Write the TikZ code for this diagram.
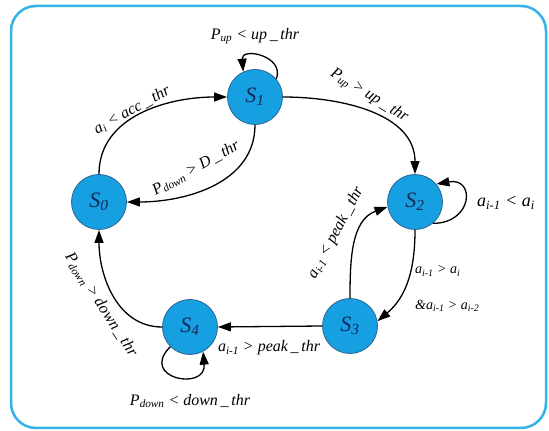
\documentclass[tikz,border=0pt]{standalone}
\usepackage{fontspec}
\setmainfont{Liberation Serif}
\usetikzlibrary{arrows.meta}
\definecolor{framec}{RGB}{50,178,230}
\definecolor{nodefill}{RGB}{22,160,225}
\definecolor{nodeline}{RGB}{40,100,150}
\definecolor{stext}{RGB}{20,40,90}
\newcommand\lsub[1]{\textsubscript{#1}}
\newcommand\usc{\,\_\,}
\begin{document}
\begin{tikzpicture}[x=1pt,y=1pt,
  state/.style={circle, draw=nodeline, line width=0.8pt, fill=nodefill, minimum size=55pt, inner sep=0pt, font=\fontsize{22}{24}\selectfont\itshape, text=stext},
  edge/.style={line width=1.3pt, -{Triangle[length=13pt,width=9pt]}},
  lab/.style={font=\fontsize{16}{18}\selectfont\itshape, inner sep=1pt},
  slab/.style={font=\fontsize{14}{16}\selectfont\itshape, inner sep=1pt}]
\useasboundingbox (0,0) rectangle (549,431);
\draw[framec, line width=2.5pt, rounded corners=25pt] (11,3) rectangle (546,425);

\node[state] (S0) at (99,229) {S\lsub{0}};
\node[state] (S1) at (255,334) {S\lsub{1}};
\node[state] (S2) at (415,229) {S\lsub{2}};
\node[state] (S3) at (350,105) {S\lsub{3}};
\node[state] (S4) at (190,104) {S\lsub{4}};

% S0 -> S1
\draw[edge] (S0.north) to[out=90,in=180] (S1.west);
\node[lab, rotate=29] (l01) at (132,321) {a\lsub{i} < acc\usc thr};
% S1 -> S0
\draw[edge] (S1.south) to[out=-90,in=0] (S0.east);
\node[lab, rotate=29] (l10) at (196,263) {P\lsub{down} > D\usc thr};
% S1 loop
\draw[edge] (S1.40) .. controls +(70:25) and +(95:25) .. (S1.115);
\node[lab] (l11) at (255,395) {P\lsub{up} < up\usc thr};
% S1 -> S2
\draw[edge] (S1.east) to[out=0,in=90] (S2.north);
\node[lab, rotate=-32] (l12) at (369,335) {P\lsub{up} > up\usc thr};
% S2 loop
\draw[edge] (S2.-50) .. controls +(0:40) and +(10:40) .. (S2.40);
\node[lab, font=\fontsize{18}{20}\selectfont\itshape] (l22) at (506,228) {a\lsub{i-1} < a\lsub{i}};
% S2 -> S3
\draw[edge] (S2.south) to[out=-90,in=40] (S3.10);
\node[slab, anchor=west] (l23a) at (414,160) {a\lsub{i-1} > a\lsub{i}};
\node[slab, anchor=west] (l23b) at (414,125) {\&a\lsub{i-1} > a\lsub{i-2}};
% S3 -> S2
\draw[edge] (S3.north) to[out=90,in=200] (S2.190);
\node[lab, rotate=62] (l32) at (336,198) {a\lsub{i-1} < peak\usc thr};
% S3 -> S4
\draw[edge] (S3.west) -- (S4.east);
\node[lab] (l34) at (269,83) {a\lsub{i-1} > peak\usc thr};
% S4 -> S0
\draw[edge] (S4.west) to[out=180,in=-90] (S0.south);
\node[lab, rotate=-57] (l40) at (101,126) {P\lsub{down} > down\usc thr};
% S4 loop
\draw[edge] (S4.-135) .. controls +(-135:45) and +(-85:40) .. (S4.-62);
\node[lab] (l44) at (190,30) {P\lsub{down} < down\usc thr};
\end{tikzpicture}
\end{document}
